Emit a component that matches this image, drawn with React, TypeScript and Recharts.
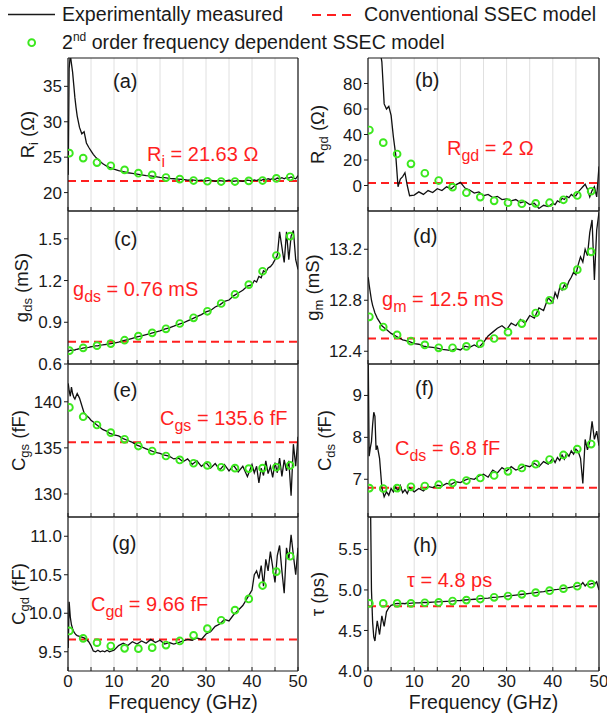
import React from 'react'
import { ComposedChart, Line, XAxis, YAxis, CartesianGrid, ReferenceLine } from 'recharts'

// measured frequency grid (GHz)
const FREQ = [
  0.05, 0.25, 0.5, 0.75, 1, 1.25, 1.5, 1.75,
  2, 2.5, 3, 3.5, 4, 4.5, 5, 5.5, 6, 6.5, 7, 7.5, 8, 8.5, 9,
  10, 11, 12, 13, 14, 15, 16, 17, 18, 19, 20, 21, 22, 23, 24, 25, 26, 27, 28, 29, 30,
  31, 32, 33, 34, 35, 36, 37, 38, 39, 40,
  40.5, 41, 41.5, 42, 42.5, 43, 43.5, 44, 44.5, 45, 45.5, 46, 46.5, 47, 47.5, 48, 48.5, 49, 49.5, 50,
]
// frequencies of the model points
const MODEL_FREQ = [0.3, 3.3, 6.3, 9.3, 12.3, 15.3, 18.3, 21.3, 24.3, 27.3, 30.3, 33.3, 36.3, 39.3, 42.3, 45.3, 48.3]
const X_TICKS = [0, 5, 10, 15, 20, 25, 30, 35, 40, 45, 50]

// (a) Ri
const RI_MEAS = [
  22.5, 37.5, 39.5, 38.2, 37.0, 35.2, 33.4, 32.0,
  30.8, 29.2, 28.3, 28.6, 27.0, 26.4, 25.9, 25.4, 25.0, 24.7, 24.4, 24.1, 23.9, 23.7, 23.55,
  23.3, 23.1, 22.95, 22.8, 22.7, 22.6, 22.5, 22.4, 22.35, 22.25, 22.15, 22.1, 22.0, 21.95, 21.9, 21.85,
  21.75, 21.8, 21.7, 21.75, 21.65, 21.75, 21.6, 21.7, 21.6, 21.75, 21.6, 21.7, 21.6, 21.75, 21.65,
  21.8, 21.7, 21.85, 21.7, 21.9, 21.8, 21.95, 21.85, 22.0, 21.85, 22.05, 21.95, 22.1, 21.95, 22.15, 22.05, 22.2, 22.05, 21.95, 22.4,
]
const RI_MODEL = [25.57, 24.87, 24.24, 23.78, 23.2, 22.74, 22.5, 22.12, 21.9, 21.7, 21.6, 21.56, 21.56, 21.65, 21.7, 22.0, 22.2]
const RI_CONV = 21.63

// (b) Rgd
const RGD_MEAS = [
  120, 140, 150, 150, 145, 140, 135, 130,
  120, 108, 97, 64, 60, 62, 55, 38, 24, -1, 5, 7, 10, 0, -8,
  -7.5, -5, -7, -4, -5.5, -2.5, -4, -1, -2.5, 0.5, 2.5, -2, -3.5, -6, -5, -8,
  -7, -9.5, -8.5, -11, -10.5, -12, -11, -13.5, -12.5, -15, -14, -18, -15.5, -16.5, -14,
  -15, -12, -13, -10, -11, -8.5, -9.5, -7, -8.5, -8, -5, -3, -1, 1, -3, -9, -4, -1, -9, 15,
]
const RGD_MODEL = [43.5, 33.6, 24.7, 17, 9.6, 3.9, -1.3, -5.7, -9.1, -12, -13.5, -14.3, -14, -13.5, -11.2, -7.8, -4.5]
const RGD_CONV = 2

// (c) gds
const GDS_MEAS = [
  0.69, 0.695, 0.7, 0.698, 0.7, 0.702, 0.7, 0.705,
  0.706, 0.71, 0.712, 0.716, 0.718, 0.72, 0.724, 0.726, 0.73, 0.73, 0.735, 0.737, 0.74, 0.742, 0.745,
  0.75, 0.758, 0.768, 0.775, 0.785, 0.795, 0.803, 0.812, 0.82, 0.83, 0.838, 0.85, 0.86, 0.872, 0.885, 0.895,
  0.91, 0.925, 0.94, 0.955, 0.975, 0.985, 1.01, 1.025, 1.05, 1.06, 1.09, 1.11, 1.13, 1.16, 1.17,
  1.2, 1.19, 1.23, 1.22, 1.27, 1.26, 1.29, 1.3, 1.32, 1.35, 1.38, 1.55, 1.44, 1.33, 1.55, 1.35, 1.52, 1.56, 1.35, 1.28,
]
const GDS_MODEL = [0.696, 0.716, 0.732, 0.747, 0.771, 0.8, 0.824, 0.853, 0.891, 0.932, 0.979, 1.035, 1.1, 1.171, 1.267, 1.38, 1.519]
const GDS_CONV = 0.76

// (d) gm
const GM_MEAS = [
  12.98, 12.92, 12.86, 12.8, 12.76, 12.73, 12.7, 12.68,
  12.66, 12.63, 12.6, 12.585, 12.57, 12.555, 12.54, 12.53, 12.52, 12.51, 12.5, 12.49, 12.485, 12.48, 12.475,
  12.46, 12.455, 12.44, 12.435, 12.43, 12.425, 12.415, 12.41, 12.405, 12.42, 12.41, 12.44, 12.43, 12.45, 12.43, 12.47,
  12.52, 12.55, 12.58, 12.6, 12.57, 12.62, 12.6, 12.65, 12.62, 12.68, 12.66, 12.74, 12.72, 12.82, 12.78,
  12.86, 12.82, 12.9, 12.88, 12.92, 12.9, 12.95, 12.98, 13.02, 13.0, 13.08, 13.14, 13.1, 13.2, 13.15, 13.33, 13.43, 12.96, 13.35, 13.49,
]
const GM_MODEL = [12.67, 12.59, 12.528, 12.48, 12.45, 12.427, 12.427, 12.438, 12.459, 12.5, 12.55, 12.617, 12.7, 12.8, 12.91, 13.04, 13.18]
const GM_CONV = 12.5

// (e) Cgs
const CGS_MEAS = [
  142.0, 141.2, 140.6, 141.6, 140.9, 140.5, 140.3, 140.6,
  140.9, 140.4, 139.6, 138.8, 138.5, 138.3, 138.0, 137.8, 137.6, 137.4, 137.2, 137.0, 136.9, 136.8, 136.6,
  136.4, 136.3, 136.0, 135.8, 135.6, 135.3, 135.1, 134.9, 134.7, 134.5, 134.4, 134.2, 134.1, 133.8, 133.9, 133.5,
  133.8, 133.2, 133.6, 133.0, 133.4, 132.8, 133.3, 132.6, 133.2, 132.5, 133.1, 132.4, 133.0, 131.9, 133.2,
  132.3, 133.0, 131.2, 132.8, 132.0, 133.6, 132.2, 133.0, 131.8, 133.4, 132.3, 133.9, 131.9, 133.7, 132.5, 133.6, 129.8, 135.4, 133.0, 136.2,
]
const CGS_MODEL = [139.39, 138.38, 137.48, 136.65, 135.93, 135.2, 134.66, 134.12, 133.69, 133.33, 133.1, 132.9, 132.8, 132.75, 132.8, 132.9, 133.1]
const CGS_CONV = 135.6

// (f) Cds
const CDS_MEAS = [
  9.9, 7.55, 7.75, 7.9, 8.3, 8.6, 8.5, 7.7,
  7.8, 7.5, 6.8, 6.58, 6.7, 6.62, 6.78, 6.7, 6.82, 6.72, 6.85, 6.68, 6.75, 6.66, 6.8,
  6.7, 6.78, 6.72, 6.83, 6.8, 6.86, 6.84, 6.9, 6.88, 6.94, 6.92, 6.98, 7.02, 7.0, 7.08, 7.12,
  7.05, 7.22, 7.15, 7.28, 7.2, 7.3, 7.22, 7.26, 7.33, 7.3, 7.38, 7.3, 7.42, 7.36, 7.5,
  7.4, 7.52, 7.45, 7.58, 7.48, 7.62, 7.55, 7.68, 7.6, 7.72, 7.66, 7.5, 6.9, 7.95, 7.7, 7.9, 8.38, 7.95, 8.15, 7.8,
]
const CDS_MODEL = [6.79, 6.78, 6.79, 6.82, 6.84, 6.87, 6.91, 6.97, 7.03, 7.09, 7.19, 7.27, 7.36, 7.47, 7.58, 7.72, 7.84]
const CDS_CONV = 6.8

// (g) Cgd
const CGD_MEAS = [
  9.55, 10.15, 9.95, 9.85, 9.8, 9.76, 9.74, 9.72,
  9.71, 9.7, 9.69, 9.68, 9.66, 9.63, 9.58, 9.51, 9.5, 9.52, 9.5, 9.51, 9.5, 9.52, 9.5,
  9.52, 9.58, 9.61, 9.58, 9.63, 9.6, 9.64, 9.61, 9.66, 9.62, 9.65, 9.6, 9.62, 9.6, 9.62, 9.64,
  9.66, 9.65, 9.68, 9.66, 9.73, 9.76, 9.83, 9.86, 9.92, 9.9, 9.98, 10.04, 10.1, 10.2, 10.3,
  10.5, 10.55, 10.45, 10.62, 10.35, 10.7, 10.55, 10.8, 10.6, 10.4, 10.75, 10.88, 10.55, 10.26, 10.85, 10.7, 11.02, 10.75, 10.5, 10.85,
]
const CGD_MODEL = [9.77, 9.674, 9.618, 9.574, 9.544, 9.54, 9.553, 9.587, 9.64, 9.713, 9.8, 9.909, 10.04, 10.186, 10.36, 10.54, 10.74]
const CGD_CONV = 9.66

// (h) tau
const TAU_MEAS = [
  6.5, 6.5, 6.3, 5.0, 4.6, 4.42, 4.37, 4.5,
  4.62, 4.45, 4.68, 4.55, 4.73, 4.78, 4.81, 4.82, 4.83, 4.835, 4.83, 4.835, 4.83, 4.84, 4.835,
  4.84, 4.84, 4.845, 4.845, 4.85, 4.852, 4.855, 4.86, 4.862, 4.868, 4.87, 4.876, 4.88, 4.885, 4.889, 4.895,
  4.9, 4.908, 4.912, 4.918, 4.924, 4.93, 4.937, 4.944, 4.95, 4.957, 4.965, 4.972, 4.98, 4.99, 4.998,
  5.003, 5.006, 5.01, 5.015, 5.02, 5.025, 5.03, 5.035, 5.04, 5.045, 5.05, 5.055, 5.09, 5.05, 5.08, 5.07, 5.08, 5.07, 5.1, 5.0,
]
const TAU_MODEL = [4.834, 4.834, 4.834, 4.834, 4.842, 4.846, 4.863, 4.875, 4.888, 4.909, 4.925, 4.946, 4.967, 4.991, 5.016, 5.046, 5.071]
const TAU_CONV = 4.8

const INK = '#1a1a1a'
const RED = '#ff1f1f'
const GREEN = '#3ce81e'
const FONT = "'Liberation Sans', Arial, Helvetica, sans-serif"

const ROW_TOPS = [58, 211, 364, 517]

interface PanelDef {
  tag: string
  col: number
  row: number
  meas: number[]
  model: number[]
  conv: number
  domain: [number, number]
  ticks: number[]
  digits: number
  sym: string
  sub: string
  unit: string
  note: string
  titleX: number
  tagPos: [number, number]
  notePos: [number, number]
}

const PANELS: PanelDef[] = [
  { tag: '(a)', col: 0, row: 0, meas: RI_MEAS, model: RI_MODEL, conv: RI_CONV, domain: [17.4, 39], ticks: [20, 25, 30, 35], digits: 0, sym: 'R', sub: 'i', unit: '(Ω)', note: ' = 21.63 Ω', titleX: 33.5, tagPos: [45, 30], notePos: [79, 20] },
  { tag: '(b)', col: 1, row: 0, meas: RGD_MEAS, model: RGD_MODEL, conv: RGD_CONV, domain: [-20, 100], ticks: [0, 20, 40, 60, 80], digits: 0, sym: 'R', sub: 'gd', unit: '(Ω)', note: ' = 2 Ω', titleX: 23.5, tagPos: [47, 29], notePos: [79, 28] },
  { tag: '(c)', col: 0, row: 1, meas: GDS_MEAS, model: GDS_MODEL, conv: GDS_CONV, domain: [0.6, 1.7], ticks: [0.6, 0.9, 1.2, 1.5], digits: 1, sym: 'g', sub: 'ds', unit: '(mS)', note: ' = 0.76 mS', titleX: 28, tagPos: [46, 35], notePos: [5, 46] },
  { tag: '(d)', col: 1, row: 1, meas: GM_MEAS, model: GM_MODEL, conv: GM_CONV, domain: [12.3, 13.5], ticks: [12.4, 12.8, 13.2], digits: 1, sym: 'g', sub: 'm', unit: '(mS)', note: ' = 12.5 mS', titleX: 19, tagPos: [45, 32], notePos: [14, 33] },
  { tag: '(e)', col: 0, row: 2, meas: CGS_MEAS, model: CGS_MODEL, conv: CGS_CONV, domain: [127.5, 144.1], ticks: [130, 135, 140], digits: 0, sym: 'C', sub: 'gs', unit: '(fF)', note: ' = 135.6 fF', titleX: 25, tagPos: [45, 33], notePos: [92, 17] },
  { tag: '(f)', col: 1, row: 2, meas: CDS_MEAS, model: CDS_MODEL, conv: CDS_CONV, domain: [6.1, 9.75], ticks: [7, 8, 9], digits: 0, sym: 'C', sub: 'ds', unit: '(fF)', note: ' = 6.8 fF', titleX: 31, tagPos: [47, 31], notePos: [27, 33] },
  { tag: '(g)', col: 0, row: 3, meas: CGD_MEAS, model: CGD_MODEL, conv: CGD_CONV, domain: [9.25, 11.25], ticks: [9.5, 10, 10.5, 11], digits: 1, sym: 'C', sub: 'gd', unit: '(fF)', note: ' = 9.66 fF', titleX: 25, tagPos: [44, 33], notePos: [23, 28] },
  { tag: '(h)', col: 1, row: 3, meas: TAU_MEAS, model: TAU_MODEL, conv: TAU_CONV, domain: [4.0, 5.9], ticks: [4, 4.5, 5, 5.5], digits: 1, sym: 'τ', sub: '', unit: '(ps)', note: ' = 4.8 ps', titleX: 24, tagPos: [45, 35], notePos: [39, 19] },
]

const YTitle = ({ viewBox, p }: { viewBox?: any; p: PanelDef }) => {
  const cy = (viewBox?.y ?? 6) + (viewBox?.height ?? 153) / 2
  const x = p.titleX
  return (
    <text x={x} y={cy} transform={`rotate(-90 ${x} ${cy})`} textAnchor="middle" fontSize={18.5} fill={INK}>
      {p.sym}
      {p.sub ? <tspan dy={4} fontSize={13}>{p.sub}</tspan> : null}
      <tspan dy={p.sub ? -4 : 0}>{' ' + p.unit}</tspan>
    </text>
  )
}

const NoteText = ({ viewBox, p }: { viewBox?: any; p: PanelDef }) => {
  const x = (viewBox?.x ?? 68) + p.notePos[0]
  const y = (viewBox?.y ?? 0) - p.notePos[1]
  return (
    <text x={x} y={y} fill={RED} fontSize={20}>
      {p.sym}
      {p.sub ? <tspan dy={6} fontSize={16}>{p.sub}</tspan> : null}
      <tspan dy={p.sub ? -6 : 0}>{p.note}</tspan>
    </text>
  )
}

// top axis is 1px tall, so its viewBox.y + 1 is the plot top
const TagText = ({ viewBox, p }: { viewBox?: any; p: PanelDef }) => (
  <text x={(viewBox?.x ?? 68) + p.tagPos[0]} y={(viewBox?.y ?? 5) + 1 + p.tagPos[1]} fontSize={20} fill={INK}>
    {p.tag}
  </text>
)

const XTitle = ({ viewBox }: { viewBox?: any }) => (
  <text x={(viewBox?.x ?? 68) + (viewBox?.width ?? 230) / 2} y={(viewBox?.y ?? 160) + 38} textAnchor="middle" fontSize={19.5} fill={INK}>
    Frequency (GHz)
  </text>
)

function PanelChart({ p }: { p: PanelDef }) {
  const meas = FREQ.map((f, i) => ({ f, v: p.meas[i] }))
  const model = MODEL_FREQ.map((f, i) => ({ f, m: p.model[i] }))
  const isBottom = p.row === 3
  const top = ROW_TOPS[p.row] - 6
  const height = isBottom ? 716 - top : 170
  const width = p.col === 0 ? 310 : 307
  const fmt = (v: number) => v.toFixed(p.digits)
  // only the bottom row shows x tick labels
  const xFmt = (v: number) => (isBottom && v % 10 === 0 ? String(v) : '')

  return (
    <div style={{ position: 'absolute', left: p.col === 0 ? 0 : 300, top }}>
      <ComposedChart
        width={width}
        height={height}
        margin={{ top: 5, right: p.col === 0 ? 11 : 7, bottom: isBottom ? 0 : 10, left: 0 }}
      >
        <CartesianGrid horizontal={false} stroke="#d8d8d8" strokeWidth={0.8} />
        <XAxis
          type="number"
          dataKey="f"
          domain={[0, 50]}
          ticks={X_TICKS}
          interval={0}
          allowDataOverflow
          height={isBottom ? 45 : 1}
          tick={{ fill: INK, fontSize: 17 }}
          tickFormatter={xFmt}
          tickSize={-4}
          tickMargin={8}
          axisLine={{ stroke: INK, strokeWidth: 1.2 }}
          tickLine={{ stroke: INK }}
          label={isBottom ? (props: any) => <XTitle viewBox={props.viewBox} /> : undefined}
        />
        <XAxis
          xAxisId="top"
          orientation="top"
          type="number"
          domain={[0, 50]}
          ticks={X_TICKS}
          interval={0}
          height={1}
          tick={false}
          tickSize={-3}
          axisLine={{ stroke: INK, strokeWidth: 1.2 }}
          tickLine={{ stroke: INK }}
          label={(props: any) => <TagText viewBox={props.viewBox} p={p} />}
        />
        <YAxis
          type="number"
          domain={p.domain}
          ticks={p.ticks}
          interval={0}
          allowDataOverflow
          width={68}
          tickSize={4}
          tickMargin={2}
          tickFormatter={fmt}
          tick={{ fill: INK, fontSize: 17 }}
          axisLine={{ stroke: INK, strokeWidth: 1.2 }}
          tickLine={{ stroke: INK }}
          label={(props: any) => <YTitle viewBox={props.viewBox} p={p} />}
        />
        <YAxis
          yAxisId="right"
          orientation="right"
          type="number"
          domain={p.domain}
          ticks={p.ticks}
          width={1}
          tick={false}
          tickLine={false}
          axisLine={{ stroke: INK, strokeWidth: 1.2 }}
        />
        <ReferenceLine
          y={p.conv}
          stroke={RED}
          strokeWidth={2}
          strokeDasharray="8 5"
          label={(props: any) => <NoteText viewBox={props.viewBox} p={p} />}
        />
        <Line
          data={meas}
          dataKey="v"
          type="linear"
          stroke="#111"
          strokeWidth={1.3}
          dot={false}
          activeDot={false}
          isAnimationActive={false}
        />
        <Line
          data={model}
          dataKey="m"
          type="linear"
          stroke="none"
          dot={{ r: 3.4, stroke: GREEN, strokeWidth: 1.9, fill: 'none' }}
          activeDot={false}
          isAnimationActive={false}
        />
      </ComposedChart>
    </div>
  )
}

function LegendBlock() {
  return (
    <svg width={607} height={56} style={{ position: 'absolute', left: 0, top: 0 }}>
      <line x1={8} y1={14.5} x2={55} y2={14.5} stroke={INK} strokeWidth={1.5} />
      <text x={62} y={21} fontSize={19.6} fill={INK}>Experimentally measured</text>
      <line x1={312} y1={15} x2={352} y2={15} stroke={RED} strokeWidth={2} strokeDasharray="9 6" />
      <text x={364} y={21} fontSize={19.6} fill={INK}>Conventional SSEC model</text>
      <circle cx={31.7} cy={42.7} r={3.4} fill="none" stroke={GREEN} strokeWidth={1.9} />
      <text x={62} y={49} fontSize={19.6} fill={INK}>
        2<tspan fontSize={12} dy={-8}>nd</tspan>
        <tspan dy={8}> order frequency dependent SSEC model</tspan>
      </text>
    </svg>
  )
}

export default function App() {
  return (
    <div
      style={{
        position: 'absolute',
        left: 0,
        top: 0,
        width: 607,
        height: 716,
        background: '#fff',
        fontFamily: FONT,
        overflow: 'hidden',
      }}
    >
      <LegendBlock />
      {PANELS.map((p) => (
        <PanelChart key={p.tag} p={p} />
      ))}
    </div>
  )
}
